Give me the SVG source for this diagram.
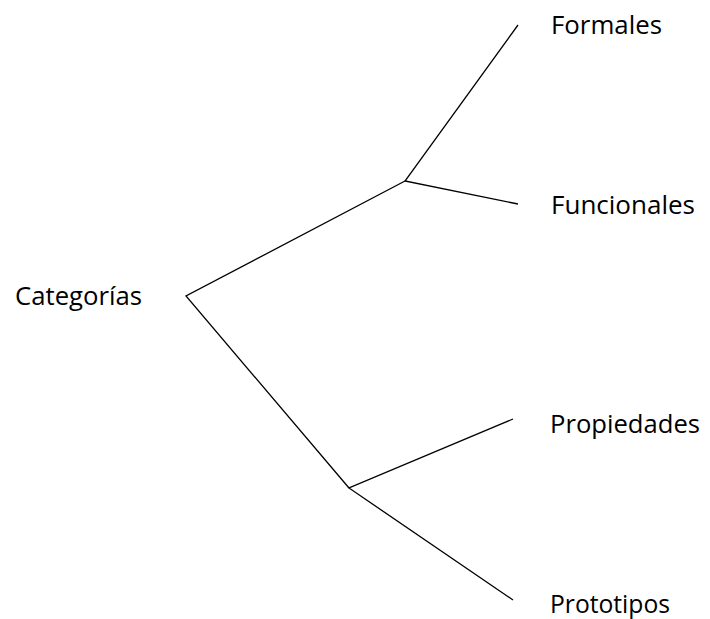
<svg xmlns="http://www.w3.org/2000/svg" width="710" height="619" viewBox="0 0 710 619">
<style>
.lbl{font-family:"Open Sans","Liberation Sans",sans-serif;font-size:25.5px;fill:#000}
.ln{stroke:#000;stroke-width:1.3;fill:none}
</style>
<rect width="710" height="619" fill="#fff"/>
<g id="connectors">
<polyline class="ln" points="405,181 186,296 349,488"/>
<polyline class="ln" points="518,25 405,181 518,204"/>
<polyline class="ln" points="513,419 349,488 513,600"/>
</g>
<g id="categorias"><text class="lbl" x="15" y="305" textLength="127" lengthAdjust="spacingAndGlyphs">Categorías</text></g>
<g id="formales"><text class="lbl" x="551" y="34" textLength="111" lengthAdjust="spacingAndGlyphs">Formales</text></g>
<g id="funcionales"><text class="lbl" x="551" y="214" textLength="144" lengthAdjust="spacingAndGlyphs">Funcionales</text></g>
<g id="propiedades"><text class="lbl" x="550" y="433" textLength="150" lengthAdjust="spacingAndGlyphs">Propiedades</text></g>
<g id="prototipos"><text class="lbl" x="550" y="613" textLength="120" lengthAdjust="spacingAndGlyphs">Prototipos</text></g>
</svg>
